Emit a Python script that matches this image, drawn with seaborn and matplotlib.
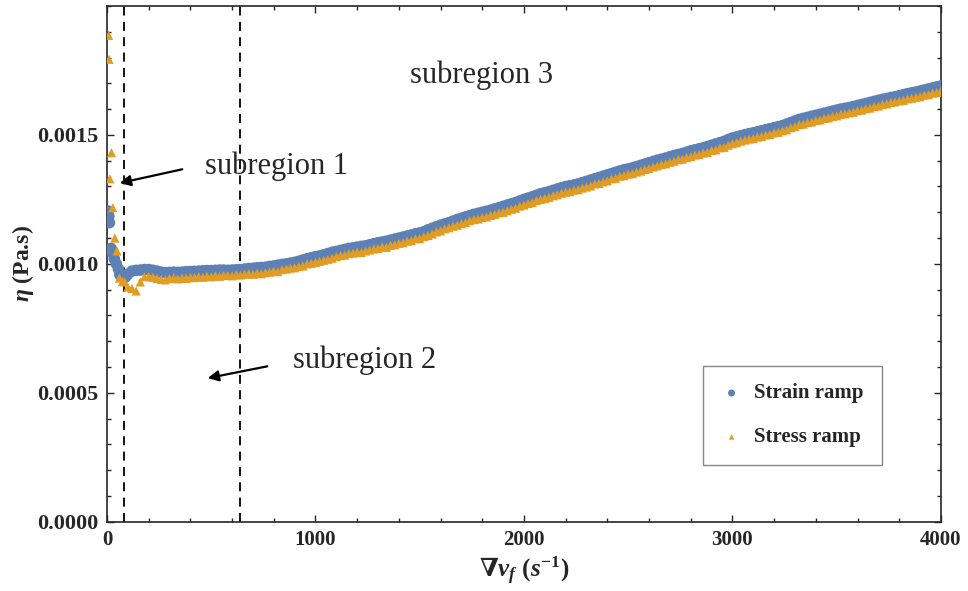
import numpy as np
import pandas as pd
import matplotlib
matplotlib.use("Agg")
import matplotlib.pyplot as plt
import seaborn as sns
from matplotlib.ticker import MultipleLocator, FixedFormatter, FixedLocator

# --- data (viscosity in 1e-6 Pa.s, shear rate in 1/s) ---
# low-rate points (subregion 1)
strain_x0 = [5, 9, 12, 20, 25, 35, 45, 55, 62, 70, 80, 90]
strain_eta0 = [1205, 1185, 1160, 1060, 1045, 1020, 1000, 980, 958, 950, 945, 950]
stress_x0 = [8, 10, 14, 22, 28, 38, 48, 60, 75, 85]
stress_eta0 = [1886, 1793, 1330, 1431, 1218, 1100, 1050, 945, 932, 930]

# main ramp
rate = [100, 120, 140, 160, 180, 200, 220, 240, 260, 280,
        300, 320, 340, 360, 380, 400, 420, 440, 460, 480,
        500, 520, 540, 560, 580, 600, 620, 640, 660, 680,
        700, 720, 740, 760, 780, 800, 820, 840, 860, 880,
        900, 920, 940, 960, 980, 1000, 1020, 1040, 1060, 1080,
        1100, 1120, 1140, 1160, 1180, 1200, 1220, 1240, 1260, 1280,
        1300, 1320, 1340, 1360, 1380, 1400, 1420, 1440, 1460, 1480,
        1500, 1520, 1540, 1560, 1580, 1600, 1620, 1640, 1660, 1680,
        1700, 1720, 1740, 1760, 1780, 1800, 1820, 1840, 1860, 1880,
        1900, 1920, 1940, 1960, 1980, 2000, 2020, 2040, 2060, 2080,
        2100, 2120, 2140, 2160, 2180, 2200, 2220, 2240, 2260, 2280,
        2300, 2320, 2340, 2360, 2380, 2400, 2420, 2440, 2460, 2480,
        2500, 2520, 2540, 2560, 2580, 2600, 2620, 2640, 2660, 2680,
        2700, 2720, 2740, 2760, 2780, 2800, 2820, 2840, 2860, 2880,
        2900, 2920, 2940, 2960, 2980, 3000, 3020, 3040, 3060, 3080,
        3100, 3120, 3140, 3160, 3180, 3200, 3220, 3240, 3260, 3280,
        3300, 3320, 3340, 3360, 3380, 3400, 3420, 3440, 3460, 3480,
        3500, 3520, 3540, 3560, 3580, 3600, 3620, 3640, 3660, 3680,
        3700, 3720, 3740, 3760, 3780, 3800, 3820, 3840, 3860, 3880,
        3900, 3920, 3940, 3960, 3980, 4000]
strain_eta = [960, 972, 975, 976, 978, 978, 975, 972, 968, 966,
              967, 968, 967, 968, 970, 970, 971, 972, 973, 974,
              974, 975, 976, 976, 975, 976, 977, 978, 980, 982,
              983, 985, 986, 987, 990, 992, 995, 998, 1000, 1003,
              1006, 1010, 1015, 1020, 1024, 1028, 1031, 1035, 1040, 1045,
              1048, 1052, 1056, 1060, 1062, 1065, 1068, 1070, 1074, 1078,
              1082, 1085, 1088, 1092, 1096, 1100, 1104, 1108, 1112, 1117,
              1120, 1125, 1132, 1138, 1144, 1150, 1155, 1160, 1166, 1172,
              1177, 1182, 1187, 1192, 1196, 1200, 1204, 1208, 1213, 1218,
              1223, 1228, 1233, 1238, 1244, 1250, 1255, 1260, 1266, 1272,
              1276, 1280, 1285, 1290, 1295, 1300, 1303, 1306, 1310, 1315,
              1320, 1325, 1330, 1335, 1340, 1345, 1350, 1355, 1360, 1365,
              1368, 1372, 1377, 1382, 1387, 1392, 1397, 1402, 1406, 1410,
              1415, 1420, 1424, 1428, 1433, 1438, 1442, 1446, 1450, 1455,
              1460, 1465, 1470, 1475, 1482, 1488, 1492, 1497, 1501, 1505,
              1508, 1512, 1516, 1520, 1524, 1528, 1532, 1536, 1542, 1548,
              1554, 1560, 1564, 1568, 1572, 1576, 1580, 1584, 1588, 1592,
              1596, 1600, 1603, 1606, 1610, 1614, 1618, 1622, 1626, 1630,
              1634, 1638, 1641, 1645, 1648, 1652, 1656, 1660, 1663, 1666,
              1670, 1674, 1678, 1682, 1686, 1690]
stress_eta = [910, 905, 895, 930, 950, 952, 948, 944, 940, 938,
              944, 946, 942, 945, 944, 948, 947, 950, 948, 952,
              950, 954, 952, 956, 955, 954, 958, 957, 960, 962,
              960, 964, 962, 966, 968, 972, 970, 978, 980, 984,
              985, 990, 992, 1000, 1002, 1006, 1010, 1014, 1018, 1022,
              1028, 1032, 1034, 1040, 1042, 1046, 1044, 1050, 1054, 1058,
              1060, 1066, 1064, 1072, 1074, 1080, 1082, 1088, 1090, 1098,
              1098, 1106, 1110, 1116, 1124, 1128, 1136, 1140, 1146, 1150,
              1156, 1160, 1168, 1172, 1174, 1180, 1182, 1188, 1192, 1198,
              1200, 1206, 1212, 1216, 1224, 1228, 1234, 1238, 1246, 1250,
              1254, 1258, 1264, 1268, 1274, 1278, 1280, 1286, 1288, 1294,
              1298, 1302, 1310, 1312, 1318, 1322, 1330, 1332, 1340, 1342,
              1348, 1350, 1356, 1360, 1366, 1370, 1376, 1380, 1386, 1388,
              1394, 1398, 1404, 1406, 1412, 1416, 1422, 1424, 1430, 1432,
              1440, 1442, 1450, 1452, 1460, 1466, 1470, 1476, 1480, 1484,
              1486, 1492, 1494, 1500, 1502, 1508, 1510, 1516, 1520, 1528,
              1532, 1540, 1542, 1548, 1550, 1556, 1558, 1564, 1566, 1572,
              1574, 1580, 1582, 1586, 1588, 1594, 1596, 1602, 1604, 1610,
              1612, 1618, 1620, 1626, 1628, 1632, 1634, 1640, 1642, 1646,
              1648, 1654, 1656, 1662, 1664, 1670]

boundaries = [80, 640]
yticks = [0.0, 0.0005, 0.0010, 0.0015]
ytick_labels = ["0.0000", "0.0005", "0.0010", "0.0015"]

df_strain = pd.DataFrame({"rate": strain_x0 + rate,
                          "eta": np.array(strain_eta0 + strain_eta) * 1e-6})
df_stress = pd.DataFrame({"rate": stress_x0 + rate,
                          "eta": np.array(stress_eta0 + stress_eta) * 1e-6})

# --- style ---
sns.set_style("ticks")
plt.rcParams["font.family"] = ["Liberation Serif", "DejaVu Serif"]
plt.rcParams["mathtext.fontset"] = "custom"
plt.rcParams["mathtext.rm"] = "Liberation Serif:bold"
plt.rcParams["mathtext.it"] = "Liberation Serif:bold:italic"
plt.rcParams["mathtext.bf"] = "DejaVu Serif:bold"

fig = plt.figure(figsize=(9.68, 5.91), dpi=100)
ax = fig.add_axes([0.1105, 0.117, 0.8615, 0.873])

blue = "#5E81B5"
orange = "#E19C24"

sns.scatterplot(data=df_strain, x="rate", y="eta", ax=ax, marker="o", s=70,
                color=blue, edgecolor="none", label="Strain ramp", zorder=3)
sns.scatterplot(data=df_stress, x="rate", y="eta", ax=ax, marker="^", s=44,
                color=orange, edgecolor="none", label="Stress ramp", zorder=4)

for b in boundaries:
    ax.axvline(b, color="black", ls=(0, (5, 3.5)), lw=1.3, zorder=2)

ax.set_xlim(0, 4000)
ax.set_ylim(0, 0.002)
ax.xaxis.set_major_locator(MultipleLocator(1000))
ax.xaxis.set_minor_locator(MultipleLocator(200))
ax.yaxis.set_major_locator(FixedLocator(yticks))
ax.yaxis.set_major_formatter(FixedFormatter(ytick_labels))
ax.yaxis.set_minor_locator(MultipleLocator(0.0001))
ax.tick_params(which="both", direction="in", top=True, right=True, width=1)
ax.tick_params(which="major", length=5, pad=6)
ax.tick_params(which="minor", length=3)
ax.tick_params(axis="x", labelsize=15)
ax.tick_params(axis="y", labelsize=16)
for lab in ax.get_xticklabels() + ax.get_yticklabels():
    lab.set_fontweight("bold")
for sp in ax.spines.values():
    sp.set_linewidth(1.2)

ax.set_xlabel(r"$\mathbf{\nabla} v_f\ (s^{-1})$", fontsize=18, labelpad=3)
ax.set_ylabel(r"$\eta$ (Pa.s)", fontsize=17, fontweight="bold", labelpad=1)

# annotations
ax.text(1453, 0.001732, "subregion 3", fontsize=22, va="center", ha="left")
ax.text(470, 0.001377, "subregion 1", fontsize=22, va="center", ha="left")
ax.text(892, 0.000625, "subregion 2", fontsize=22, va="center", ha="left")
arrow = dict(arrowstyle="-|>", color="black", lw=1.6, mutation_scale=16)
ax.annotate("", xy=(48, 0.001311), xytext=(374, 0.001369), arrowprops=arrow)
ax.annotate("", xy=(470, 0.000555), xytext=(782, 0.000605), arrowprops=arrow)

leg = ax.legend(loc="lower right", bbox_to_anchor=(0.929, 0.110), borderaxespad=0,
                frameon=True, fancybox=False, edgecolor="#888888", framealpha=1,
                prop={"family": "Liberation Serif", "weight": "bold", "size": 15},
                markerscale=0.6, handletextpad=0.6, labelspacing=1.15,
                borderpad=0.85, handlelength=1.0)
leg.get_frame().set_linewidth(1.0)

fig.savefig("out.png", dpi=100)
